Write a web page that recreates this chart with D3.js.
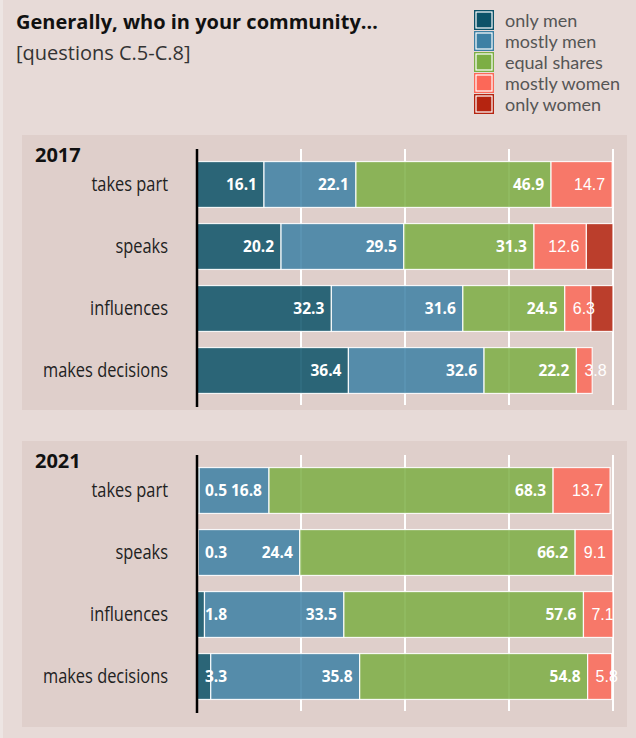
<!DOCTYPE html>
<html>
<head>
<meta charset="utf-8">
<script src="https://cdn.jsdelivr.net/npm/d3@7"></script>
<style>
  body { margin: 0; background: #e7dad7; }
  svg { display: block; }
</style>
</head>
<body>
<svg id="chart" width="636" height="738"></svg>
<script>
// Data (percent of respondents)
const categories = ["only men", "mostly men", "equal shares", "mostly women", "only women"];
const colors = ["#0c5268", "#3d80a4", "#7cae44", "#fc6858", "#b52410"];
const activities = ["takes part", "speaks", "influences", "makes decisions"];
const years = ["2017", "2021"];
const gridTicks = [0, 25, 50, 75, 100];

const onlyMen2017 = [16.1, 20.2, 32.3, 36.4];
const mostlyMen2017 = [22.1, 29.5, 31.6, 32.6];
const equal2017 = [46.9, 31.3, 24.5, 22.2];
const mostlyWomen2017 = [14.7, 12.6, 6.3, 3.8];
const onlyWomen2017 = [0, 6.4, 5.3, 0];

const onlyMen2021 = [0.5, 0.3, 1.8, 3.3];
const mostlyMen2021 = [16.8, 24.4, 33.5, 35.8];
const equal2021 = [68.3, 66.2, 57.6, 54.8];
const mostlyWomen2021 = [13.7, 9.1, 7.1, 5.8];
const onlyWomen2021 = [0, 0, 0, 0];

const series = {
  "2017": [onlyMen2017, mostlyMen2017, equal2017, mostlyWomen2017, onlyWomen2017],
  "2021": [onlyMen2021, mostlyMen2021, equal2021, mostlyWomen2021, onlyWomen2021]
};

const svg = d3.select("#chart");
const W = 636, H = 738;

// background
svg.append("rect").attr("width", W).attr("height", H).attr("fill", "#e7dad7");
svg.append("rect").attr("width", 3).attr("height", H).attr("fill", "#ede5e3");

// title
svg.append("text")
  .attr("x", 16).attr("y", 28.5)
  .attr("font-family", "'Open Sans', sans-serif")
  .attr("font-weight", 700)
  .attr("font-size", 20)
  .attr("fill", "#111")
  .text("Generally, who in your community…");

svg.append("text")
  .attr("x", 16).attr("y", 60)
  .attr("font-family", "'Open Sans', sans-serif")
  .attr("font-size", 20)
  .attr("fill", "#333")
  .text("[questions C.5-C.8]");

// legend
const legend = svg.append("g").attr("transform", "translate(474,10)");
categories.forEach((c, i) => {
  const g = legend.append("g").attr("transform", `translate(0,${i * 21})`);
  g.append("rect")
    .attr("x", 0.5).attr("y", 0.5).attr("width", 19).attr("height", 19)
    .attr("fill", colors[i]).attr("stroke", colors[i]).attr("stroke-width", 1);
  g.append("rect")
    .attr("x", 2).attr("y", 2).attr("width", 16).attr("height", 16)
    .attr("fill", colors[i]).attr("stroke", "#fff").attr("stroke-width", 1.2);
  g.append("text")
    .attr("x", 31).attr("y", 16.5)
    .attr("font-family", "Lato, sans-serif")
    .attr("font-size", 18)
    .attr("fill", "#555")
    .text(c);
});

// scales
const x = d3.scaleLinear().domain([0, 100]).range([197, 613]);

function drawPanel(year, top, panelH) {
  const g = svg.append("g").attr("transform", `translate(0,${top})`);

  g.append("rect")
    .attr("x", 22).attr("y", 0)
    .attr("width", 605).attr("height", panelH)
    .attr("fill", "#dfcfcb");

  const y = d3.scaleBand()
    .domain(activities)
    .range([18, 267])
    .paddingInner(0.26)
    .paddingOuter(0.138);

  // gridlines
  g.selectAll(".grid")
    .data(gridTicks)
    .join("line")
    .attr("x1", d => x(d)).attr("x2", d => x(d))
    .attr("y1", 14).attr("y2", 270)
    .attr("stroke", "#fff")
    .attr("stroke-width", 2);

  // stack
  const data = activities.map((a, i) => {
    let acc = 0;
    return series[year].map((s, k) => {
      const seg = { act: a, k: k, v: s[i], x0: acc, x1: acc + s[i] };
      acc += s[i];
      return seg;
    });
  }).flat().filter(d => d.v > 0);

  g.selectAll(".seg")
    .data(data)
    .join("rect")
    .attr("x", d => x(d.x0))
    .attr("y", d => y(d.act))
    .attr("width", d => x(d.x1) - x(d.x0))
    .attr("height", y.bandwidth())
    .attr("fill", d => colors[d.k])
    .attr("fill-opacity", 0.85)
    .attr("stroke", "#fff")
    .attr("stroke-opacity", 0.9)
    .attr("stroke-width", 1.2);

  // value labels (only women not labelled)
  g.selectAll(".val")
    .data(data.filter(d => d.k < 4))
    .join("text")
    .attr("x", d => d.v < 8 ? x(d.x0) + 8 : x(d.x1) - 7)
    .attr("y", d => y(d.act) + y.bandwidth() / 2)
    .attr("dy", "0.36em")
    .attr("text-anchor", d => d.v < 8 ? "start" : "end")
    .attr("font-family", d => d.k === 3 ? "'Liberation Sans', Arial, sans-serif" : "'Open Sans', sans-serif")
    .attr("font-weight", d => d.k === 3 ? 400 : 700)
    .attr("font-size", d => d.k === 3 ? 16 : 15.5)
    .attr("fill", "#fff")
    .text(d => d3.format(".1f")(d.v));

  // category axis labels (condensed look via horizontal scale)
  g.selectAll(".lab")
    .data(activities)
    .join("text")
    .attr("transform", d => `translate(168,${y(d) + y.bandwidth() / 2}) scale(0.8,1)`)
    .attr("dy", "0.3em")
    .attr("text-anchor", "end")
    .attr("font-family", "'Open Sans', sans-serif")
    .attr("font-size", 20.5)
    .attr("fill", "#222")
    .text(d => d);

  // axis line
  g.append("line")
    .attr("x1", x(0)).attr("x2", x(0))
    .attr("y1", 14).attr("y2", 272)
    .attr("stroke", "#000")
    .attr("stroke-width", 2.5);

  g.append("text")
    .attr("x", 35).attr("y", 27)
    .attr("font-family", "'Open Sans', sans-serif")
    .attr("font-weight", 700)
    .attr("font-size", 20)
    .attr("fill", "#111")
    .text(year);
}

drawPanel("2017", 135, 275);
drawPanel("2021", 441, 286);
</script>
</body>
</html>
